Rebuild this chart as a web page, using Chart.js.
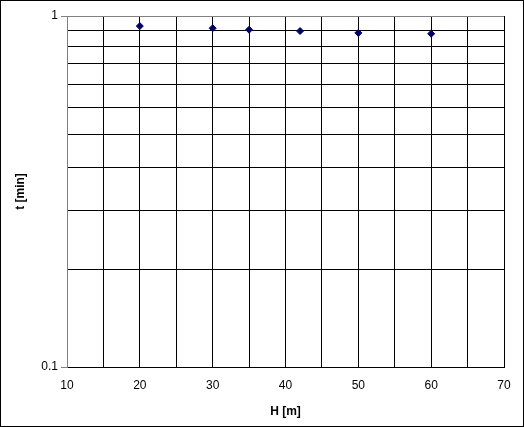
<!DOCTYPE html>
<html>
<head>
<meta charset="utf-8">
<script src="https://cdn.jsdelivr.net/npm/chart.js@4"></script>
<style>
  html, body { margin: 0; padding: 0; background: #fff; }
  #wrap { position: relative; width: 524px; height: 427px; }
</style>
</head>
<body>
<div id="wrap"><canvas id="chart-ht"></canvas></div>
<script>
// H [m] vs t [min]
var heights = [20, 30, 35, 42, 50, 60];
var times   = [0.936, 0.923, 0.914, 0.906, 0.895, 0.890];
var xLabelTicks = [10, 20, 30, 40, 50, 60, 70];
var yLabelTicks = [0.1, 1];
// Excel-style minor gridlines on the log axis (0.1 + 0.09 steps)
var yGridTicks = [0.1, 0.19, 0.28, 0.37, 0.46, 0.55, 0.64, 0.73, 0.82, 0.91, 1];

var FONT = "'Liberation Sans', Arial, sans-serif";

// outer frame like the Excel chart area
var framePlugin = {
  id: 'frame',
  afterDraw: function (chart) {
    var ctx = chart.ctx;
    ctx.save();
    ctx.strokeStyle = '#000';
    ctx.lineWidth = 1;
    ctx.strokeRect(0.5, 0.5, chart.width - 1, chart.height - 1);
    ctx.restore();
  }
};

var el = document.getElementById('chart-ht');
new Chart(el, {
  type: 'scatter',
  data: {
    datasets: [{
      label: 't',
      data: heights.map(function (h, i) { return { x: h, y: times[i] }; }),
      pointStyle: 'rectRot',
      pointRadius: 3.5,
      pointHoverRadius: 3.5,
      backgroundColor: '#000066',
      borderColor: '#000066',
      borderWidth: 1
    }]
  },
  options: {
    responsive: true, maintainAspectRatio: false,
    animation: false,
    layout: { padding: { left: 13, right: 20, top: 16, bottom: 8 } },
    plugins: { legend: { display: false }, tooltip: { enabled: false } },
    scales: {
      x: {
        type: 'linear', min: 10, max: 70,
        afterFit: function (s) { s.height = 52; },
        ticks: {
          stepSize: 5, color: '#000', padding: 11,
          font: { family: FONT, size: 12 },
          maxRotation: 0, autoSkip: false,
          callback: function (v) { return xLabelTicks.indexOf(v) >= 0 ? String(v) : ''; }
        },
        grid: {
          color: function (c) { return c.tick && c.tick.value === 10 ? '#808080' : '#000'; },
          lineWidth: 1, drawTicks: false
        },
        border: { color: '#000', width: 1 },
        title: {
          display: true, text: 'H [m]', color: '#000',
          font: { family: FONT, size: 12, weight: 'bold' },
          padding: 0
        }
      },
      y: {
        type: 'logarithmic', min: 0.1, max: 1,
        afterFit: function (s) { s.width = 54; },
        afterBuildTicks: function (s) {
          s.ticks = yGridTicks.map(function (v) { return { value: v }; });
        },
        ticks: {
          color: '#000', padding: 3,
          font: { family: FONT, size: 12 },
          autoSkip: false,
          callback: function (v) { return yLabelTicks.indexOf(v) >= 0 ? String(v) : ''; }
        },
        grid: {
          color: function (c) { return c.tick && c.tick.value === 1 ? '#808080' : '#000'; },
          lineWidth: 1, tickLength: 6,
          tickColor: function (c) {
            return c.tick && yLabelTicks.indexOf(c.tick.value) >= 0 ? '#808080' : 'rgba(0,0,0,0)';
          }
        },
        border: { color: '#808080', width: 1 },
        title: {
          display: true, text: 't [min]', color: '#000',
          font: { family: FONT, size: 12, weight: 'bold' },
          padding: 0
        }
      }
    }
  },
  plugins: [framePlugin]
});
</script>
</body>
</html>
